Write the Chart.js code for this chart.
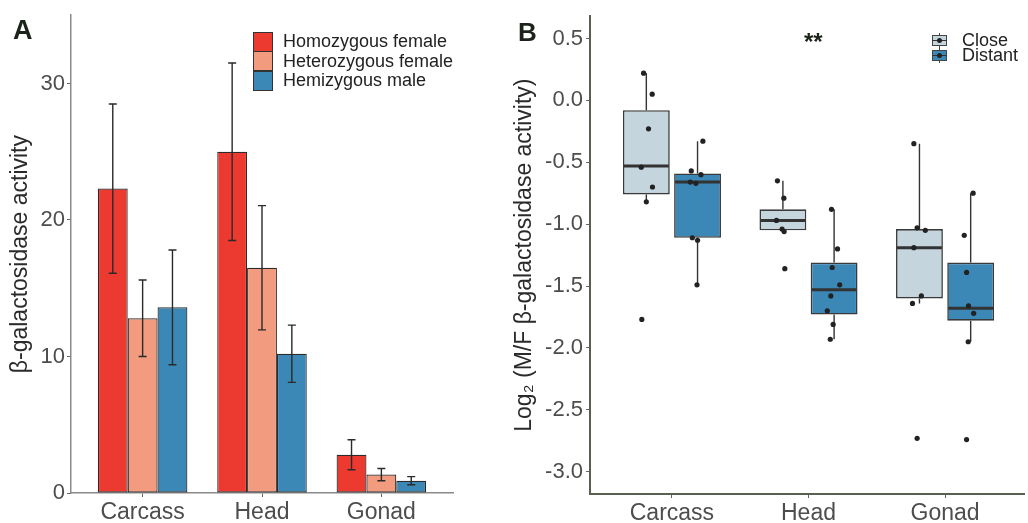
<!DOCTYPE html>
<html>
<head>
<meta charset="utf-8">
<script src="https://cdn.jsdelivr.net/npm/chart.js@4.4.1/dist/chart.umd.min.js"></script>
<style>
  body { margin: 0; background: #fff; font-family: "Liberation Sans", Arial, sans-serif; }
  #wrap { position: relative; width: 1028px; height: 523px; overflow: hidden; }
  canvas { position: absolute; top: 0; }
  #chartA { left: 0; }
  #chartB { left: 500px; }
  .tag { position: absolute; font-weight: bold; color: #1b2418; line-height: 1; }
  .legA { position: absolute; left: 253px; height: 20px; display: flex; align-items: center; font-size: 18px; color: #222; white-space: nowrap; }
  .legA .sw { width: 18px; height: 18px; border: 1px solid #333; margin-right: 10px; }
  .legB { position: absolute; left: 932px; height: 15px; display: flex; align-items: center; font-size: 18px; color: #222; white-space: nowrap; }
  .key { position: relative; width: 15px; height: 15px; margin-right: 15px; }
  .key .wh { position: absolute; left: 6.5px; top: 0; width: 1.5px; height: 15px; background: #444; }
  .key .bx { position: absolute; left: 0; top: 2px; width: 13px; height: 9px; border: 1.2px solid #444; }
  .key .md { position: absolute; left: 0; top: 6.5px; width: 15px; height: 1.5px; background: #333; }
  .key .dt { position: absolute; left: 5px; top: 5px; width: 5px; height: 5px; border-radius: 50%; background: #222; }
  #stars { position: absolute; left: 804px; top: 30px; font-size: 24px; font-weight: bold; color: #1b2418; line-height: 1; }
</style>
</head>
<body>
<div id="wrap">
  <canvas id="chartA" width="500" height="523"></canvas>
  <canvas id="chartB" width="528" height="523"></canvas>
  <div class="tag" style="left:13px;top:17px;font-size:27px;">A</div>
  <div class="tag" style="left:518px;top:19px;font-size:26px;">B</div>
  <div id="stars">**</div>
</div>
<script>
const categories = ['Carcass', 'Head', 'Gonad'];

// panel A
const genotypes = ['Homozygous female', 'Heterozygous female', 'Hemizygous male'];
const homozygousMean = [22.3, 25.0, 2.8];
const homozygousErr = [6.2, 6.5, 1.1];
const heterozygousMean = [12.8, 16.5, 1.35];
const heterozygousErr = [2.8, 4.55, 0.45];
const hemizygousMean = [13.6, 10.2, 0.9];
const hemizygousErr = [4.2, 2.1, 0.3];
const yTicksA = [0, 10, 20, 30];

// panel B
const groups = ['Close', 'Distant'];
const closeQ1 = [-0.76, -1.05, -1.60];
const closeMedian = [-0.53, -0.97, -1.19];
const closeQ3 = [-0.08, -0.88, -1.04];
const closeLow = [-0.82, -1.06, -1.64];
const closeHigh = [0.22, -0.65, -0.35];
const distantQ1 = [-1.11, -1.73, -1.78];
const distantMedian = [-0.66, -1.53, -1.68];
const distantQ3 = [-0.59, -1.31, -1.31];
const distantLow = [-1.49, -1.93, -1.95];
const distantHigh = [-0.33, -0.88, -0.75];
const closePoints = [
  [0.22, 0.05, -0.23, -0.54, -0.70, -0.82, -1.77],
  [-0.65, -0.79, -0.97, -1.04, -1.06, -1.36],
  [-0.35, -1.03, -1.05, -1.19, -1.58, -1.64, -2.73]
];
const closeJitter = [
  [-0.02, 0.043, 0.016, -0.037, 0.045, 0.0, -0.033],
  [-0.04, 0.007, -0.047, -0.006, 0.009, 0.014],
  [-0.041, -0.017, 0.043, -0.041, 0.014, -0.051, -0.017]
];
const distantPoints = [
  [-0.33, -0.57, -0.60, -0.66, -0.67, -1.11, -1.13, -1.49],
  [-0.88, -1.20, -1.35, -1.49, -1.58, -1.70, -1.81, -1.93],
  [-0.75, -1.09, -1.39, -1.66, -1.72, -1.95, -2.74]
];
const distantJitter = [
  [0.039, -0.046, 0.025, -0.053, -0.012, -0.038, 0.0, -0.004],
  [-0.019, 0.025, -0.014, 0.041, -0.024, -0.05, -0.007, -0.028],
  [0.018, -0.047, -0.03, -0.016, 0.022, -0.018, -0.03]
];
const yTicksB = [0.5, 0.0, -0.5, -1.0, -1.5, -2.0, -2.5, -3.0];

const FONT = '"Liberation Sans", Arial, sans-serif';
const barColors = ['#ec3a30', '#f39b7f', '#3b87b6'];
const boxColors = ['#c4d5de', '#3b87b6'];
const boxCatPct = 0.75;

const errorBars = {
  id: 'errorBars',
  afterDatasetsDraw(chart) {
    const ctx = chart.ctx, y = chart.scales.y;
    ctx.save();
    ctx.strokeStyle = '#2a2a2a';
    ctx.lineWidth = 1.4;
    chart.data.datasets.forEach((ds, d) => {
      chart.getDatasetMeta(d).data.forEach((bar, i) => {
        const x = bar.x;
        const top = y.getPixelForValue(ds.means[i] + ds.errors[i]);
        const bot = y.getPixelForValue(ds.means[i] - ds.errors[i]);
        ctx.beginPath();
        ctx.moveTo(x, top); ctx.lineTo(x, bot);
        ctx.moveTo(x - 4, top); ctx.lineTo(x + 4, top);
        ctx.moveTo(x - 4, bot); ctx.lineTo(x + 4, bot);
        ctx.stroke();
      });
    });
    ctx.restore();
  }
};

const boxParts = {
  id: 'boxParts',
  afterDatasetDraw(chart, args) {
    const ds = chart.data.datasets[args.index];
    if (!ds.stats) return;
    const ctx = chart.ctx, y = chart.scales.y;
    ctx.save();
    ctx.strokeStyle = '#333';
    args.meta.data.forEach((bar, i) => {
      const p = bar.getProps(['x', 'width'], true);
      const s = ds.stats;
      ctx.lineWidth = 1.4;
      ctx.beginPath();
      ctx.moveTo(p.x, y.getPixelForValue(s.q3[i])); ctx.lineTo(p.x, y.getPixelForValue(s.high[i]));
      ctx.moveTo(p.x, y.getPixelForValue(s.q1[i])); ctx.lineTo(p.x, y.getPixelForValue(s.low[i]));
      ctx.stroke();
      ctx.lineWidth = 3;
      const ym = y.getPixelForValue(s.median[i]);
      ctx.beginPath();
      ctx.moveTo(p.x - p.width / 2 + 1, ym); ctx.lineTo(p.x + p.width / 2 - 1, ym);
      ctx.stroke();
    });
    ctx.restore();
  }
};

function catAxis(min, max, height, borderColor, borderWidth) {
  return {
    type: 'linear', min: min, max: max, offset: false,
    afterBuildTicks: s => { s.ticks = categories.map((c, i) => ({ value: i + 1 })); },
    afterFit: s => { s.height = height; },
    ticks: { callback: (v, i) => categories[i], font: { family: FONT, size: 23 }, color: '#4d4d4d', padding: 2 },
    grid: { offset: false, drawOnChartArea: false, tickLength: 4, color: '#666', lineWidth: 1 },
    border: { color: borderColor, width: borderWidth }
  };
}

// panel A
const meansA = [homozygousMean, heterozygousMean, hemizygousMean];
const errsA = [homozygousErr, heterozygousErr, hemizygousErr];
new Chart(document.getElementById('chartA'), {
  type: 'bar',
  data: {
    datasets: genotypes.map((g, k) => ({
      label: g,
      data: categories.map((c, i) => ({ x: i + 1, y: meansA[k][i] })),
      means: meansA[k],
      errors: errsA[k],
      backgroundColor: barColors[k],
      borderColor: '#2b2b2b',
      borderWidth: 1.2,
      borderSkipped: false,
      categoryPercentage: 0.75,
      barPercentage: 1
    }))
  },
  options: {
    responsive: false,
    animation: false,
    devicePixelRatio: 1,
    layout: { padding: { top: 14, right: 47, left: 0, bottom: 0 } },
    plugins: { legend: { display: false }, tooltip: { enabled: false } },
    scales: {
      x: catAxis(0.4, 3.6, 30, '#8a8a8a', 1.5),
      y: {
        min: 0, max: 35,
        afterBuildTicks: s => { s.ticks = yTicksA.map(v => ({ value: v })); },
        afterFit: s => { s.width = 71; },
        ticks: { font: { family: FONT, size: 22 }, color: '#4d4d4d', padding: 2 },
        grid: { drawOnChartArea: false, tickLength: 4, color: '#666' },
        border: { color: '#8a8a8a', width: 1.5 },
        title: { display: true, text: 'β-galactosidase activity', font: { family: FONT, size: 23 }, color: '#2a2a2a', padding: { top: 7, bottom: 0 } }
      }
    }
  },
  plugins: [errorBars]
});

// panel B
const dodge = boxCatPct / 4;
const statsB = [
  { q1: closeQ1, median: closeMedian, q3: closeQ3, low: closeLow, high: closeHigh },
  { q1: distantQ1, median: distantMedian, q3: distantQ3, low: distantLow, high: distantHigh }
];
const pointsB = [closePoints, distantPoints];
const jitterB = [closeJitter, distantJitter];
const pointData = [];
groups.forEach((g, k) => {
  categories.forEach((c, i) => {
    pointsB[k][i].forEach((v, j) => {
      pointData.push({ x: i + 1 + (k === 0 ? -dodge : dodge) + jitterB[k][i][j], y: v });
    });
  });
});

new Chart(document.getElementById('chartB'), {
  type: 'bar',
  data: {
    datasets: [
      {
        type: 'scatter',
        label: 'points',
        data: pointData,
        order: 0,
        pointRadius: 2.6,
        pointBackgroundColor: '#222',
        pointBorderWidth: 0
      }
    ].concat(groups.map((g, k) => ({
      label: g,
      order: 1,
      data: categories.map((c, i) => ({ x: i + 1, y: [statsB[k].q1[i], statsB[k].q3[i]] })),
      stats: statsB[k],
      backgroundColor: boxColors[k],
      borderColor: '#3a3a3a',
      borderWidth: 1.6,
      borderSkipped: false,
      categoryPercentage: boxCatPct,
      barPercentage: 0.915
    })))
  },
  options: {
    responsive: false,
    animation: false,
    devicePixelRatio: 1,
    layout: { padding: { top: 13, right: 0, left: 0, bottom: 0 } },
    plugins: { legend: { display: false }, tooltip: { enabled: false } },
    scales: {
      x: catAxis(0.4, 3.578, 29, '#596052', 2),
      y: {
        min: -3.18, max: 0.68,
        afterBuildTicks: s => { s.ticks = yTicksB.map(v => ({ value: v })); },
        afterFit: s => { s.width = 90; },
        ticks: { callback: v => v.toFixed(1), font: { family: FONT, size: 22 }, color: '#4d4d4d', padding: 3 },
        grid: { drawOnChartArea: false, tickLength: 4, color: '#666' },
        border: { color: '#596052', width: 2 },
        title: { display: true, text: 'Log₂ (M/F β-galactosidase activity)', font: { family: FONT, size: 23 }, color: '#2a2a2a', padding: { top: 11, bottom: 0 } }
      }
    }
  },
  plugins: [boxParts]
});

// legends
const wrap = document.getElementById('wrap');
genotypes.forEach((g, k) => {
  const row = document.createElement('div');
  row.className = 'legA';
  row.style.top = (31.5 + k * 19.7) + 'px';
  row.innerHTML = '<div class="sw" style="background:' + barColors[k] + '"></div><span>' + g + '</span>';
  wrap.appendChild(row);
});
groups.forEach((g, k) => {
  const row = document.createElement('div');
  row.className = 'legB';
  row.style.top = (33 + k * 15) + 'px';
  row.innerHTML = '<div class="key"><div class="wh"></div><div class="bx" style="background:' + boxColors[k] + '"></div><div class="md"></div><div class="dt"></div></div><span>' + g + '</span>';
  wrap.appendChild(row);
});
</script>
</body>
</html>
